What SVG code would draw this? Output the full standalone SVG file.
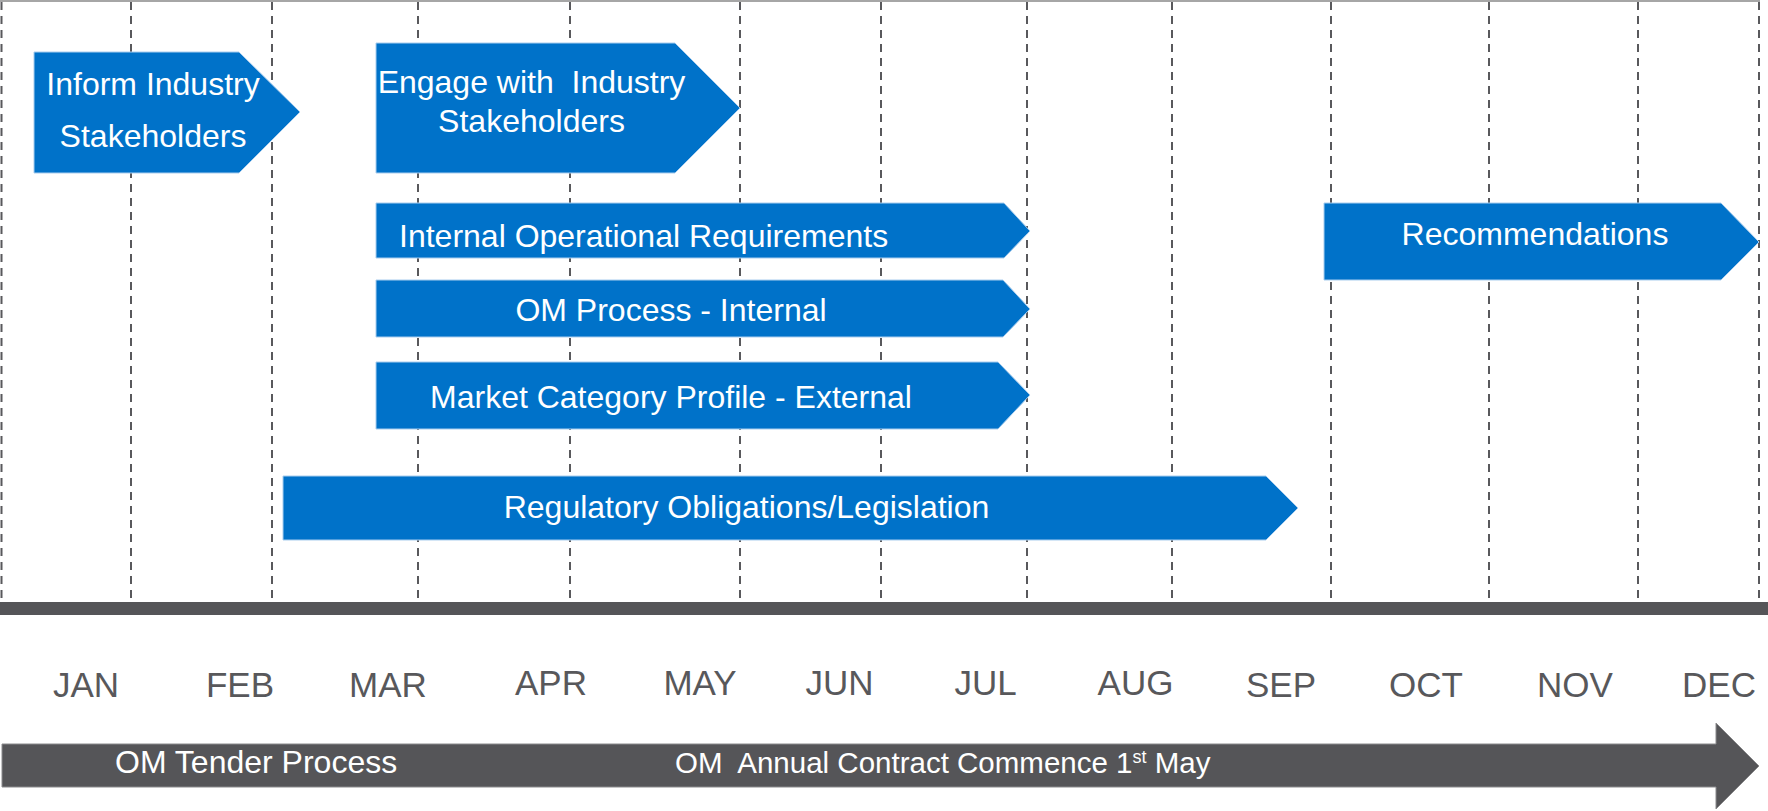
<svg xmlns="http://www.w3.org/2000/svg" width="1768" height="811" viewBox="0 0 1768 811">
<style>
.grid{stroke:#59595c;stroke-width:2;stroke-dasharray:8 6;fill:none}
.task{fill:#0072C9;stroke:#a9cdee;stroke-width:1}
.tt{fill:#ffffff;font-family:"Liberation Sans",Arial,sans-serif;font-size:32px}
.mon{fill:#58585b;font-family:"Liberation Sans",Arial,sans-serif;font-size:35px;text-anchor:middle}
.bar{fill:#555558;stroke:#8a8a8c;stroke-width:1}
</style>
<rect x="0" y="0" width="1768" height="811" fill="#ffffff"/>
<g id="grid">
<line x1="0" y1="1" x2="1760" y2="1" stroke="#a6a6a6" stroke-width="2"/>
<line class="grid" x1="1.5" y1="2" x2="1.5" y2="601"/>
<line class="grid" x1="131" y1="2" x2="131" y2="601"/>
<line class="grid" x1="272" y1="2" x2="272" y2="601"/>
<line class="grid" x1="418" y1="2" x2="418" y2="601"/>
<line class="grid" x1="570" y1="2" x2="570" y2="601"/>
<line class="grid" x1="740" y1="2" x2="740" y2="601"/>
<line class="grid" x1="881" y1="2" x2="881" y2="601"/>
<line class="grid" x1="1027" y1="2" x2="1027" y2="601"/>
<line class="grid" x1="1172" y1="2" x2="1172" y2="601"/>
<line class="grid" x1="1331" y1="2" x2="1331" y2="601"/>
<line class="grid" x1="1489" y1="2" x2="1489" y2="601"/>
<line class="grid" x1="1638" y1="2" x2="1638" y2="601"/>
<line class="grid" x1="1759" y1="2" x2="1759" y2="601"/>
</g>
<g id="axis">
<rect x="0" y="602" width="1768" height="13" fill="#555558"/>
</g>
<g id="inform">
<polygon class="task" points="34,52 239,52 300,112 239,173 34,173"/>
<text class="tt" x="153" y="95" text-anchor="middle">Inform Industry</text>
<text class="tt" x="153" y="147" text-anchor="middle">Stakeholders</text>
</g>
<g id="engage">
<polygon class="task" points="376,43 675,43 740,108 675,173 376,173"/>
<text class="tt" x="531.5" y="93" text-anchor="middle" xml:space="preserve">Engage with  Industry</text>
<text class="tt" x="531.5" y="132" text-anchor="middle">Stakeholders</text>
</g>
<g id="internal-operational">
<polygon class="task" points="376,203 1004,203 1030,231 1004,258 376,258"/>
<text class="tt" x="399" y="247">Internal Operational Requirements</text>
</g>
<g id="om-process">
<polygon class="task" points="376,280 1003,280 1030,309 1003,337 376,337"/>
<text class="tt" x="671" y="321" text-anchor="middle">OM Process - Internal</text>
</g>
<g id="market-category">
<polygon class="task" points="376,362 998,362 1030,395 998,429 376,429"/>
<text class="tt" x="671" y="408" text-anchor="middle">Market Category Profile - External</text>
</g>
<g id="regulatory">
<polygon class="task" points="283,476 1266,476 1298,508 1266,540 283,540"/>
<text class="tt" x="746.5" y="518" text-anchor="middle">Regulatory Obligations/Legislation</text>
</g>
<g id="recommendations">
<polygon class="task" points="1324,203 1721,203 1759,242 1721,280 1324,280"/>
<text class="tt" x="1535" y="245" text-anchor="middle">Recommendations</text>
</g>
<g id="months">
<text class="mon" x="86" y="697">JAN</text>
<text class="mon" x="240" y="697">FEB</text>
<text class="mon" x="388" y="697">MAR</text>
<text class="mon" x="551" y="695">APR</text>
<text class="mon" x="700" y="695">MAY</text>
<text class="mon" x="839.5" y="695">JUN</text>
<text class="mon" x="985.5" y="695">JUL</text>
<text class="mon" x="1135.5" y="695">AUG</text>
<text class="mon" x="1281" y="697">SEP</text>
<text class="mon" x="1426" y="697">OCT</text>
<text class="mon" x="1575" y="697">NOV</text>
<text class="mon" x="1719" y="697">DEC</text>
</g>
<g id="contract-arrow">
<polygon class="bar" points="2,744 1716,744 1716,723 1759,766 1716,809 1716,787 2,787"/>
<text class="tt" x="115" y="773">OM Tender Process</text>
<text class="tt" x="675" y="773" style="font-size:29.5px" xml:space="preserve">OM  Annual Contract Commence 1<tspan style="font-size:18px" dy="-10">st</tspan><tspan dy="10"> May</tspan></text>
</g>
</svg>
